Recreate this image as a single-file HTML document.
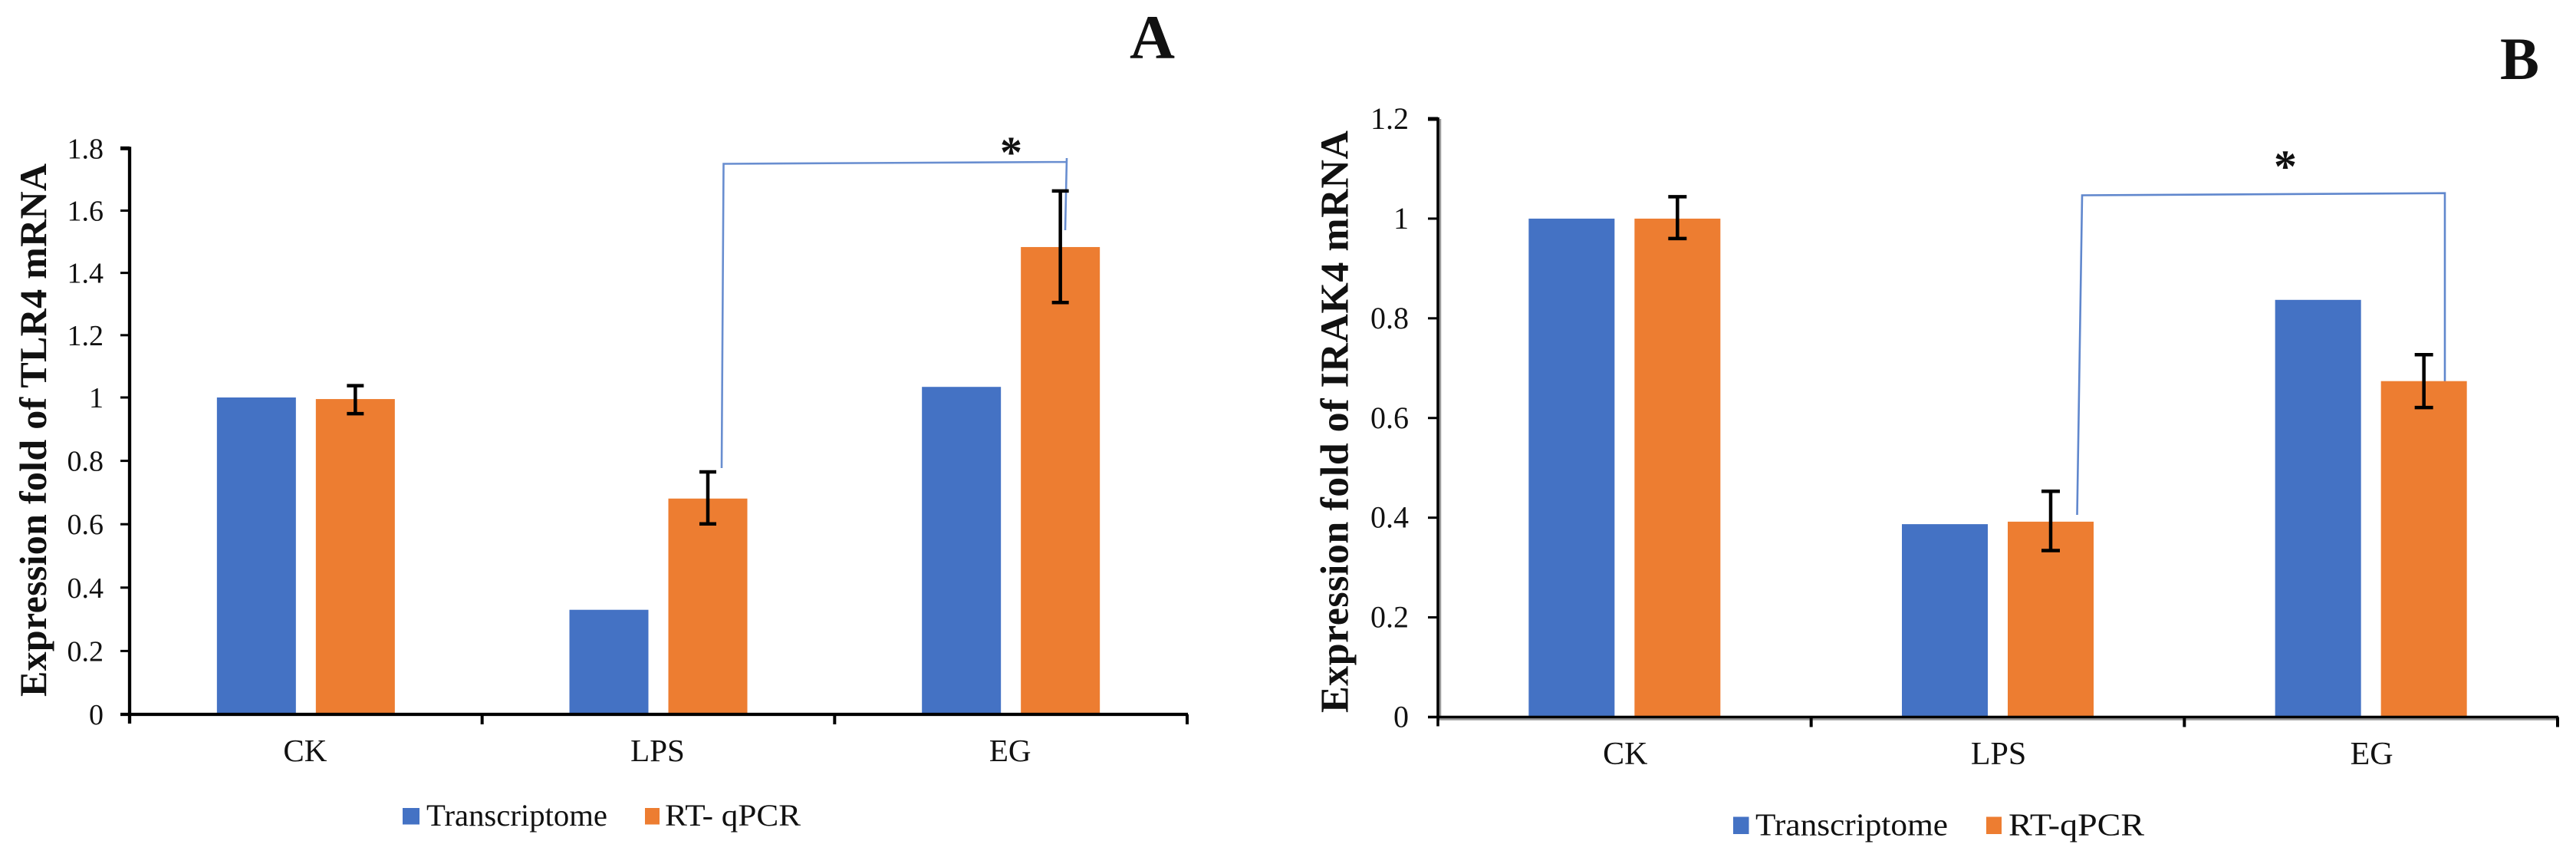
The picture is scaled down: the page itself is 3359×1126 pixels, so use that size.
<!DOCTYPE html>
<html lang="en">
<head>
<meta charset="utf-8">
<title>Expression fold of TLR4 and IRAK4 mRNA</title>
<style>
  html, body { margin: 0; padding: 0; background: #fff; }
  svg { display: block; }
  text { font-family: "Liberation Serif", serif; fill: #111; }
</style>
</head>
<body>
<svg id="figure" xmlns="http://www.w3.org/2000/svg" width="3359" height="1126" viewBox="0 0 3359 1126">
  <rect x="0" y="0" width="3359" height="1126" fill="#fff"/>

  <g id="chart-a">
    <text x="1473" y="76" font-size="82" font-weight="bold" textLength="59" lengthAdjust="spacingAndGlyphs">A</text>
    <text transform="translate(60 908) rotate(-90)" font-size="50" font-weight="bold" textLength="695" lengthAdjust="spacing">Expression fold of TLR4 mRNA</text>
    <path d="M941 610 L943.5 213.5 L1391 211 M1391 206 L1389 300" fill="none" stroke="#4472c4" stroke-width="2.6" stroke-opacity="0.8"/>
    <text x="1318.5" y="218" font-size="58" font-weight="bold" text-anchor="middle">*</text>
    <rect x="525" y="1053" width="22" height="21.5" fill="#4472c4"/>
    <text x="556" y="1076" font-size="40" textLength="236" lengthAdjust="spacingAndGlyphs">Transcriptome</text>
    <rect x="841" y="1053" width="19" height="21.5" fill="#ed7d31"/>
    <text x="867" y="1076" font-size="40" textLength="177" lengthAdjust="spacingAndGlyphs">RT- qPCR</text>
  </g>

  <g id="chart-b">
    <text x="3260" y="103" font-size="78" font-weight="bold" textLength="51" lengthAdjust="spacingAndGlyphs">B</text>
    <text transform="translate(1757.5 929) rotate(-90)" font-size="52" font-weight="bold" textLength="759" lengthAdjust="spacing">Expression fold of IRAK4 mRNA</text>
    <path d="M2708.5 671 L2715 254.5 L3188 251.7 L3188 498" fill="none" stroke="#4472c4" stroke-width="2.6" stroke-opacity="0.85"/>
    <text x="2980" y="237" font-size="60" font-weight="bold" text-anchor="middle">*</text>
    <rect x="2260" y="1064.5" width="20.5" height="22.5" fill="#4472c4"/>
    <text x="2289" y="1088.5" font-size="41" textLength="251" lengthAdjust="spacingAndGlyphs">Transcriptome</text>
    <rect x="2590" y="1064.5" width="20" height="22.5" fill="#ed7d31"/>
    <text x="2619" y="1088.5" font-size="41" textLength="177" lengthAdjust="spacingAndGlyphs">RT-qPCR</text>
  </g>
</svg>

<script>
// Shared categories
const categories = ['CK', 'LPS', 'EG'];

// Chart A values (TLR4)
const aTicks = [0, 0.2, 0.4, 0.6, 0.8, 1, 1.2, 1.4, 1.6, 1.8];
const aTickLabels = ['0', '0.2', '0.4', '0.6', '0.8', '1', '1.2', '1.4', '1.6', '1.8'];
const aTranscriptome = [1.0, 0.33, 1.034];
const aQpcr = [0.995, 0.681, 1.483];
const aErrHigh = [1.038, 0.765, 1.663];
const aErrLow = [0.949, 0.601, 1.305];

// Chart B values (IRAK4)
const bTicks = [0, 0.2, 0.4, 0.6, 0.8, 1, 1.2];
const bTickLabels = ['0', '0.2', '0.4', '0.6', '0.8', '1', '1.2'];
const bTranscriptome = [1.0, 0.387, 0.837];
const bQpcr = [1.0, 0.392, 0.674];
const bErrHigh = [1.044, 0.453, 0.727];
const bErrLow = [0.96, 0.334, 0.621];

const NS = 'http://www.w3.org/2000/svg';

function mk(parent, tag, attrs) {
  const el = document.createElementNS(NS, tag);
  for (const k in attrs) el.setAttribute(k, attrs[k]);
  parent.appendChild(el);
  return el;
}

// Piecewise-linear y axis function built from domain/range stops
function yScale(domain, range) {
  return function (v) {
    let i = 0;
    while (i < domain.length - 2 && v > domain[i + 1]) i++;
    const t = (v - domain[i]) / (domain[i + 1] - domain[i]);
    return range[i] + t * (range[i + 1] - range[i]);
  };
}

function drawChart(id, key, o) {
  const g = document.getElementById(id);
  const y = o.y;
  const band = (o.x1 - o.x0) / o.categories.length;
  const xCenter = function (i) { return o.x0 + band * (i + 0.5); };

  // bars
  o.categories.forEach(function (cat, i) {
    const blueTop = y(o.transcriptome[i]);
    const blue = mk(g, 'rect', {
      x: xCenter(i) - o.offset - o.barW / 2, y: blueTop,
      width: o.barW, height: o.y0 - blueTop, fill: '#4472c4'
    });
    
    

    const orangeTop = y(o.qpcr[i]);
    const orange = mk(g, 'rect', {
      x: xCenter(i) + o.offset - o.barW / 2, y: orangeTop,
      width: o.barW, height: o.y0 - orangeTop, fill: '#ed7d31'
    });
    
    

    // error bar
    const ex = xCenter(i) + o.offset;
    const hi = y(o.errHigh[i]);
    const lo = y(o.errLow[i]);
    const err = mk(g, 'path', {
      d: 'M' + ex + ' ' + hi + 'V' + lo +
         'M' + (ex - o.capW / 2) + ' ' + hi + 'H' + (ex + o.capW / 2) +
         'M' + (ex - o.capW / 2) + ' ' + lo + 'H' + (ex + o.capW / 2),
      fill: 'none', stroke: '#000', 'stroke-width': 4.5
    });
    
    

    // category label
    const lab = mk(g, 'text', {
      x: xCenter(i) + o.labelShift, y: o.catBaseline,
      'font-size': o.catFont, 'text-anchor': 'middle'
    });
    lab.textContent = cat;
    
    
  });

  // axis shadow (panel B has a soft grey edge)
  if (o.shadow) {
    const sh = mk(g, 'path', {
      d: 'M' + (o.x0 + 3) + ' ' + y(o.ticks[o.ticks.length - 1]) + 'V' + o.y0 + 'M' + o.x0 + ' ' + (o.y0 + 3) + 'H' + o.x1,
      fill: 'none', stroke: '#999', 'stroke-width': 2.5
    });
    
    
  }

  // y axis line
  const yAxis = mk(g, 'line', {
    x1: o.x0, x2: o.x0, y1: y(o.ticks[o.ticks.length - 1]) - 2, y2: o.y0 + 12,
    stroke: '#000', 'stroke-width': o.axisW
  });
  
  

  // x axis line
  const xAxis = mk(g, 'line', {
    x1: o.x0 - o.tickLen, x2: o.x1 + 1, y1: o.y0, y2: o.y0,
    stroke: '#000', 'stroke-width': o.axisW
  });
  
  

  // y ticks
  o.ticks.forEach(function (t, i) {
    const ty = y(t);
    const tick = mk(g, 'line', {
      x1: o.x0 - o.tickLen, x2: o.x0, y1: ty, y2: ty,
      stroke: '#000', 'stroke-width': (i === o.ticks.length - 1) ? 5 : 3
    });
    
    

    const label = mk(g, 'text', {
      x: o.labelX, y: ty + 13, 'font-size': o.tickFont, 'text-anchor': 'end'
    });
    label.textContent = o.tickLabels[i];
    
    
  });

  // x ticks on category boundaries
  for (let i = 1; i <= o.categories.length; i++) {
    const tx = o.x0 + band * i;
    const xt = mk(g, 'line', {
      x1: tx, x2: tx, y1: o.y0, y2: o.y0 + 13,
      stroke: '#000', 'stroke-width': 4
    });
    
    
  }
}

drawChart('chart-a', 'a', {
  categories: categories,
  ticks: aTicks,
  tickLabels: aTickLabels,
  transcriptome: aTranscriptome,
  qpcr: aQpcr,
  errHigh: aErrHigh,
  errLow: aErrLow,
  y: yScale([0, 1, 1.8], [931, 518, 193.3]),
  y0: 931, x0: 169, x1: 1548,
  barW: 103, offset: 64.5, capW: 22,
  tickLen: 12, axisW: 4.3, labelX: 135,
  tickFont: 38, catFont: 41, catBaseline: 992, labelShift: -1
});

drawChart('chart-b', 'b', {
  categories: categories,
  ticks: bTicks,
  tickLabels: bTickLabels,
  transcriptome: bTranscriptome,
  qpcr: bQpcr,
  errHigh: bErrHigh,
  errLow: bErrLow,
  y: yScale([0, 1.2], [934.5, 155]),
  y0: 934.5, x0: 1875, x1: 3335,
  barW: 112, offset: 69, capW: 24,
  tickLen: 13, axisW: 3.6, labelX: 1837,
  tickFont: 40, catFont: 42, catBaseline: 996, labelShift: 1,
  shadow: true
});
</script>
</body>
</html>
